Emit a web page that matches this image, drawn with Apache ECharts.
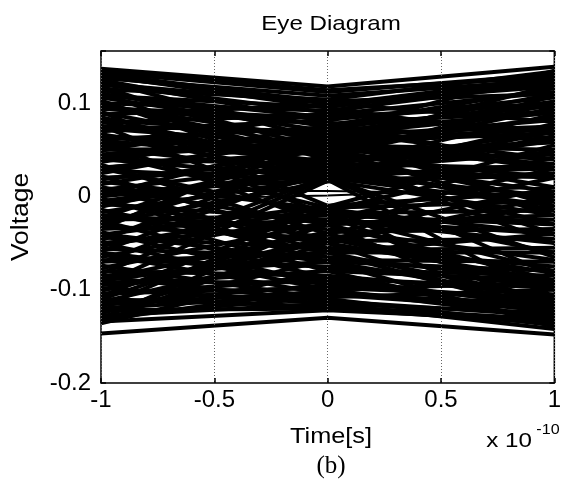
<!DOCTYPE html>
<html>
<head>
<meta charset="utf-8">
<script src="https://cdn.jsdelivr.net/npm/echarts@6/dist/echarts.min.js"></script>
<style>html,body{margin:0;padding:0;background:#fff}#c{width:564px;height:494px}</style>
</head>
<body>
<div id="c"></div>
<script>
// Time sample points (units of 1e-10 s)
const sampleTimes = [-1, 0, 1];
const xTicks = [-1, -0.5, 0, 0.5, 1];
const yTicks = [-0.2, -0.1, 0, 0.1];
// Each trace: voltage at t = -1, 0, 1 (x 1e-10 s)
const traces = [
  [0.137, 0.118, 0.139], [0.133, 0.112, 0.131], [0.130, 0.095, 0.062], [0.127, 0.108, 0.125],
  [0.124, 0.060, -0.010], [0.121, 0.100, 0.118], [0.118, 0.040, -0.050], [0.115, 0.104, 0.134],
  [0.112, 0.020, -0.085], [0.109, 0.085, 0.100], [0.106, 0.070, 0.040], [0.103, 0.018, -0.110],
  [0.100, 0.092, 0.122], [0.097, 0.050, 0.010], [0.094, 0.078, 0.091], [0.091, -0.010, -0.128],
  [0.088, 0.098, 0.128], [0.085, 0.030, -0.030], [0.082, 0.066, 0.075], [0.079, 0.088, 0.112],
  [0.076, -0.020, -0.120], [0.073, 0.055, 0.050], [0.070, 0.082, 0.106], [0.067, 0.020, -0.065],
  [0.064, 0.045, 0.020], [0.061, 0.074, 0.097], [0.058, -0.030, -0.136], [0.055, 0.062, 0.082],
  [0.052, 0.025, 0.000], [0.049, 0.090, 0.130], [0.046, -0.012, -0.060], [0.043, 0.058, 0.068],
  [0.040, 0.035, 0.030], [0.037, 0.076, 0.116], [0.034, -0.040, -0.100], [0.031, 0.048, 0.058],
  [0.028, 0.017, -0.020], [0.025, 0.068, 0.102], [0.022, -0.050, -0.130], [0.019, 0.040, 0.045],
  [0.016, -0.014, -0.040], [0.013, 0.052, 0.085], [0.010, -0.060, -0.125], [0.007, 0.036, 0.060],
  [0.004, 0.018, 0.022], [0.001, 0.064, 0.110], [-0.002, -0.070, -0.140], [-0.005, 0.028, 0.048],
  [-0.008, -0.025, -0.050], [-0.011, 0.044, 0.095], [-0.014, -0.080, -0.135], [-0.017, 0.020, 0.035],
  [-0.020, -0.035, -0.068], [-0.023, 0.056, 0.120], [-0.026, -0.088, -0.118], [-0.029, 0.016, 0.025],
  [-0.032, -0.045, -0.082], [-0.035, 0.070, 0.135], [-0.038, -0.095, -0.112], [-0.041, -0.010, 0.005],
  [-0.044, -0.055, -0.075], [-0.047, 0.046, 0.100], [-0.050, -0.100, -0.130], [-0.053, -0.012, -0.005],
  [-0.056, -0.065, -0.090], [-0.059, 0.032, 0.088], [-0.062, -0.105, -0.122], [-0.065, -0.018, -0.015],
  [-0.068, -0.075, -0.095], [-0.071, 0.022, 0.078], [-0.074, -0.110, -0.138], [-0.077, -0.028, -0.025],
  [-0.080, -0.085, -0.105], [-0.083, 0.020, 0.070], [-0.086, -0.112, -0.128], [-0.089, -0.038, -0.035],
  [-0.092, -0.092, -0.115], [-0.095, 0.017, 0.065], [-0.098, -0.115, -0.142], [-0.101, -0.048, -0.045],
  [-0.104, -0.098, -0.108], [-0.107, -0.011, 0.055], [-0.110, -0.118, -0.132], [-0.113, -0.058, -0.055],
  [-0.116, -0.102, -0.120], [-0.119, -0.015, 0.042], [-0.122, -0.120, -0.136], [-0.125, -0.068, -0.070],
  [-0.128, -0.108, -0.100], [-0.131, -0.025, 0.030], [-0.134, -0.122, -0.133], [-0.136, -0.078, -0.085],
  [-0.147, -0.130, -0.148],
  [0.135, 0.114, 0.128], [0.128, 0.102, 0.110], [0.120, 0.090, 0.070], [0.110, 0.075, 0.060],
  [0.098, 0.060, 0.030], [0.090, 0.045, -0.005], [0.080, 0.035, -0.015], [0.060, 0.038, 0.005],
  [0.050, 0.052, 0.040], [0.045, 0.066, 0.090], [0.030, 0.060, 0.072], [0.020, 0.030, 0.020],
  [0.000, 0.024, 0.030], [-0.010, 0.034, 0.070], [-0.030, 0.040, 0.108], [-0.045, 0.025, 0.060],
  [-0.020, -0.050, -0.090], [-0.040, -0.070, -0.110], [-0.060, -0.090, -0.125], [-0.070, -0.060, -0.060],
  [-0.085, -0.070, -0.080], [-0.095, -0.080, -0.090], [-0.105, -0.088, -0.098], [-0.115, -0.095, -0.110],
  [-0.120, -0.105, -0.115], [-0.128, -0.115, -0.125], [-0.132, -0.100, -0.092], [-0.110, -0.030, 0.020],
  [-0.100, -0.045, -0.010], [-0.090, -0.060, -0.040], [-0.125, -0.050, 0.000], [-0.135, -0.040, 0.010],
  [0.100, 0.040, -0.040], [0.115, 0.050, -0.020], [0.125, 0.080, 0.030], [0.132, 0.100, 0.080],
  [0.108, 0.096, 0.125], [0.095, 0.084, 0.100], [0.075, 0.070, 0.090], [0.065, 0.050, 0.035],
  [0.040, 0.020, -0.010], [0.030, -0.020, -0.080], [0.010, -0.030, -0.090], [-0.005, -0.045, -0.095],
  [-0.015, -0.060, -0.110], [-0.025, -0.020, -0.030], [-0.035, -0.025, -0.040], [-0.050, -0.030, -0.020],
  [0.006, 0.006, 0.002], [-0.004, 0.001, 0.010]
];

const chart = echarts.init(document.getElementById('c'), null, {renderer: 'canvas'});
const font = 'Liberation Sans';
const fmtX = v => (xTicks.some(t => Math.abs(t - v) < 1e-9) ? String(Math.round(v * 10) / 10) : '');
const fmtY = v => (yTicks.some(t => Math.abs(t - v) < 1e-9) ? String(Math.round(v * 10) / 10) : '');

const series = traces.map((tr, k) => ({
  type: 'line',
  xAxisIndex: 0, yAxisIndex: 0,
  data: tr.map((v, i) => [sampleTimes[i], v]),
  symbol: 'none',
  lineStyle: {color: '#000', width: k >= traces.length - 2 ? 2 : 4},
  silent: true,
  z: 2
}));

const tickStyle = {show: true, inside: true, length: 5, lineStyle: {color: '#000', width: 1.5}};
const txt = (x, y, text, size, extra) => Object.assign({
  type: 'text', x: x, y: y, scaleX: 1.15,
  style: {text: text, fontFamily: font, fontSize: size, fill: '#000', textAlign: 'center', textVerticalAlign: 'middle'}
}, extra || {});

chart.setOption({
  animation: false,
  backgroundColor: '#fff',
  grid: {left: 101, right: 3, top: 51, bottom: 111, show: true, borderColor: '#000', borderWidth: 1.5, z: 5},
  xAxis: [
    {type: 'value', min: -1, max: 1, interval: 0.5, position: 'bottom',
     axisLine: {show: false, onZero: false}, axisTick: tickStyle,
     axisLabel: {formatter: fmtX, color: '#000', fontFamily: font, fontSize: 24, margin: 5},
     splitLine: {show: true, lineStyle: {color: '#666', type: [1, 2], width: 1}}, z: 6},
    {type: 'value', min: -1, max: 1, interval: 0.5, position: 'top',
     axisLine: {show: false, onZero: false}, axisTick: tickStyle,
     axisLabel: {show: false}, splitLine: {show: false}, z: 6}
  ],
  yAxis: [
    {type: 'value', min: -0.2, max: 0.156, interval: 0.1, position: 'left',
     axisLine: {show: false, onZero: false}, axisTick: tickStyle,
     axisLabel: {formatter: fmtY, color: '#000', fontFamily: font, fontSize: 24, margin: 10},
     splitLine: {show: false}, z: 6},
    {type: 'value', min: -0.2, max: 0.156, interval: 0.1, position: 'right',
     axisLine: {show: false, onZero: false}, axisTick: tickStyle,
     axisLabel: {show: false}, splitLine: {show: false}, z: 6}
  ],
  graphic: [
    txt(331, 24, 'Eye Diagram', 21),
    txt(22, 217, 'Voltage', 23, {rotation: Math.PI / 2, scaleX: 1.15, scaleY: 1}),
    txt(331, 437, 'Time[s]', 22),
    txt(509, 441, 'x 10', 21),
    txt(548, 430, '-10', 14),
    {type: 'text', x: 331, y: 466, style: {text: '(b)', fontFamily: 'Liberation Serif', fontSize: 25, fill: '#000', textAlign: 'center', textVerticalAlign: 'middle'}}
  ],
  series: series
});
</script>
</body>
</html>
